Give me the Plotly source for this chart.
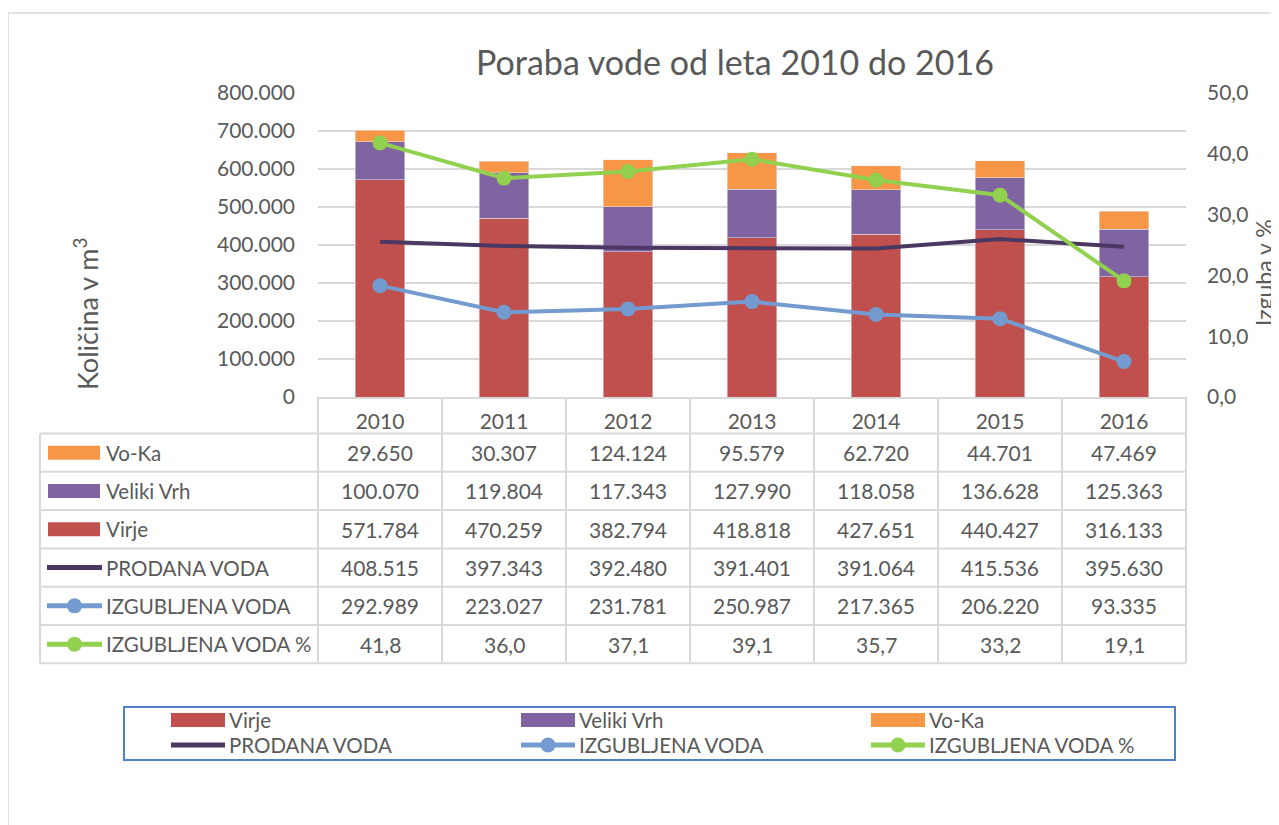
import plotly.graph_objects as go

years = ['2010', '2011', '2012', '2013', '2014', '2015', '2016']
virje = [571784, 470259, 382794, 418818, 427651, 440427, 316133]
veliki_vrh = [100070, 119804, 117343, 127990, 118058, 136628, 125363]
vo_ka = [29650, 30307, 124124, 95579, 62720, 44701, 47469]
prodana = [408515, 397343, 392480, 391401, 391064, 415536, 395630]
izgubljena = [292989, 223027, 231781, 250987, 217365, 206220, 93335]
izgubljena_pct = [41.8, 36.0, 37.1, 39.1, 35.7, 33.2, 19.1]

title_text = 'Poraba vode od leta 2010 do 2016'
y_title = 'Količina v m<sup>3</sup>'
y2_title = 'Izguba v %'

C_VIRJE = '#C0504D'
C_VRH = '#8064A2'
C_VOKA = '#F79646'
C_PROD = '#4B3862'
C_IZG = '#739BCF'
C_PCT = '#92D050'
TXT = '#595959'
GRID = '#D9D9D9'
FONT = 'Lato'

# the page body adds an 8px offset; figure coordinates below are given in screen pixels
OFF = 8
W, H = 1279 - OFF, 825 - OFF
def px(x):
    return (x - OFF) / W
def py(y):
    return 1 - (y - OFF) / H

PL, PR, PT, PB = 318, 1186, 93, 397

fig = go.Figure()
fig.add_trace(go.Bar(x=years, y=virje, name='Virje', marker_color=C_VIRJE, width=0.4))
fig.add_trace(go.Bar(x=years, y=veliki_vrh, name='Veliki Vrh', marker_color=C_VRH, width=0.4))
fig.add_trace(go.Bar(x=years, y=vo_ka, name='Vo-Ka', marker_color=C_VOKA, width=0.4))
fig.add_trace(go.Scatter(x=years, y=prodana, name='PRODANA VODA', mode='lines',
                         line=dict(color=C_PROD, width=4)))
fig.add_trace(go.Scatter(x=years, y=izgubljena, name='IZGUBLJENA VODA', mode='lines+markers',
                         line=dict(color=C_IZG, width=4), marker=dict(size=15, color=C_IZG)))
fig.add_trace(go.Scatter(x=years, y=izgubljena_pct, name='IZGUBLJENA VODA %', mode='lines+markers',
                         line=dict(color=C_PCT, width=4), marker=dict(size=15, color=C_PCT),
                         yaxis='y2'))

shapes = []
annotations = []

# outer chart border
shapes.append(dict(type='rect', xref='paper', yref='paper', x0=px(8), x1=px(1300), y0=py(13), y1=py(850),
                   line=dict(color=GRID, width=1.5)))

# ---- data table ----
row_top = 433.5
row_h = 38.3
row_names = ['Vo-Ka', 'Veliki Vrh', 'Virje', 'PRODANA VODA', 'IZGUBLJENA VODA', 'IZGUBLJENA VODA %']
row_vals = [vo_ka, veliki_vrh, virje, prodana, izgubljena, izgubljena_pct]
row_colors = [C_VOKA, C_VRH, C_VIRJE, C_PROD, C_IZG, C_PCT]
row_kind = ['bar', 'bar', 'bar', 'line', 'marker', 'marker']
col_w = (PR - PL) / len(years)
table_bottom = row_top + row_h * len(row_names)

for i in range(len(years) + 1):
    xx = PL + col_w * i
    shapes.append(dict(type='line', xref='paper', yref='paper', x0=px(xx), x1=px(xx),
                       y0=py(PB), y1=py(table_bottom), line=dict(color=GRID, width=2)))
shapes.append(dict(type='line', xref='paper', yref='paper', x0=px(40), x1=px(40),
                   y0=py(row_top), y1=py(table_bottom), line=dict(color=GRID, width=2)))
for r in range(len(row_names) + 1):
    yy = row_top + row_h * r
    shapes.append(dict(type='line', xref='paper', yref='paper', x0=px(40), x1=px(PR),
                       y0=py(yy), y1=py(yy), line=dict(color=GRID, width=2)))

def fmt_int(v):
    return f'{v:,}'.replace(',', '.')
def fmt_pct(v):
    return f'{v:.1f}'.replace('.', ',')

def icon(kind, col, x0, x1, yc):
    out = []
    if kind == 'bar':
        out.append(dict(type='rect', xref='paper', yref='paper', x0=px(x0), x1=px(x1),
                        y0=py(yc + 7), y1=py(yc - 7), fillcolor=col, line=dict(width=0)))
    else:
        out.append(dict(type='line', xref='paper', yref='paper', x0=px(x0), x1=px(x1),
                        y0=py(yc), y1=py(yc), line=dict(color=col, width=5)))
        if kind == 'marker':
            xm = (x0 + x1) / 2
            out.append(dict(type='circle', xref='paper', yref='paper', x0=px(xm - 7.5), x1=px(xm + 7.5),
                            y0=py(yc + 7.5), y1=py(yc - 7.5), fillcolor=col, line=dict(width=0)))
    return out

LBL = 20.5
for r, (nm, vals, col, kind) in enumerate(zip(row_names, row_vals, row_colors, row_kind)):
    yc = row_top + row_h * (r + 0.5)
    annotations.append(dict(text=nm, xref='paper', yref='paper', x=px(104), y=py(yc),
                            xanchor='left', yanchor='middle', showarrow=False,
                            font=dict(family=FONT, size=LBL, color=TXT)))
    if kind == 'bar':
        shapes += icon(kind, col, 48, 100, yc)
    else:
        shapes += icon(kind, col, 47, 102, yc)
    for i, v in enumerate(vals):
        t = fmt_pct(v) if r == 5 else fmt_int(v)
        annotations.append(dict(text=t, xref='x', yref='paper', x=i, y=py(yc),
                                xanchor='center', yanchor='middle', showarrow=False,
                                font=dict(family=FONT, size=21, color=TXT)))

# axis titles
annotations.append(dict(text=y_title, xref='paper', yref='paper', x=px(86), y=py(314), textangle=-90,
                        showarrow=False, xanchor='center', yanchor='middle',
                        font=dict(family=FONT, size=27, color=TXT)))
annotations.append(dict(text=y2_title, xref='paper', yref='paper', x=px(1264), y=py(273), textangle=-90,
                        showarrow=False, xanchor='center', yanchor='middle',
                        font=dict(family=FONT, size=23, color=TXT)))

# ---- bottom legend (drawn) ----
shapes.append(dict(type='rect', xref='paper', yref='paper', x0=px(124), x1=px(1175), y0=py(707), y1=py(760),
                   line=dict(color='#4F81C7', width=2)))
legend_items = [
    ('Virje', C_VIRJE, 'bar', 0, 0), ('Veliki Vrh', C_VRH, 'bar', 1, 0), ('Vo-Ka', C_VOKA, 'bar', 2, 0),
    ('PRODANA VODA', C_PROD, 'line', 0, 1), ('IZGUBLJENA VODA', C_IZG, 'marker', 1, 1),
    ('IZGUBLJENA VODA %', C_PCT, 'marker', 2, 1),
]
for nm, col, kind, c, r in legend_items:
    x0 = 171 + 350 * c
    yc = 720 + 25 * r
    shapes += icon(kind, col, x0, x0 + 54, yc)
    annotations.append(dict(text=nm, xref='paper', yref='paper', x=px(x0 + 56), y=py(yc),
                            xanchor='left', yanchor='middle', showarrow=False,
                            font=dict(family=FONT, size=LBL, color=TXT)))

fig.update_layout(
    width=W, height=H,
    margin=dict(l=0, r=0, t=0, b=0, pad=0, autoexpand=False),
    paper_bgcolor='white', plot_bgcolor='white',
    barmode='stack',
    separators=',.',
    hovermode=False,
    showlegend=False,
    title=dict(text=title_text, x=px(735), xanchor='center', y=py(63), yanchor='middle',
               font=dict(family=FONT, size=34, color=TXT)),
    font=dict(family=FONT, color=TXT),
    xaxis=dict(domain=[px(PL), px(PR)], type='category', range=[-0.5, 6.5], showgrid=False, zeroline=False,
               showline=True, linecolor=GRID, linewidth=2, automargin=False,
               ticks='outside', ticklen=5, tickcolor='rgba(0,0,0,0)',
               tickfont=dict(family=FONT, size=21, color=TXT)),
    yaxis=dict(domain=[py(PB), py(PT)], range=[0, 800000], dtick=100000, tickformat=',d',
               showgrid=True, gridcolor=GRID, gridwidth=2, zeroline=False, showline=False, automargin=False,
               ticklabelstandoff=22, tickfont=dict(family=FONT, size=21, color=TXT)),
    yaxis2=dict(overlaying='y', side='right', range=[0, 50], dtick=10, tickformat='.1f',
                showgrid=False, zeroline=False, showline=False, automargin=False,
                ticklabelstandoff=20, tickfont=dict(family=FONT, size=21, color=TXT)),
    shapes=shapes,
    annotations=annotations,
)

fig.write_html('out.html')
